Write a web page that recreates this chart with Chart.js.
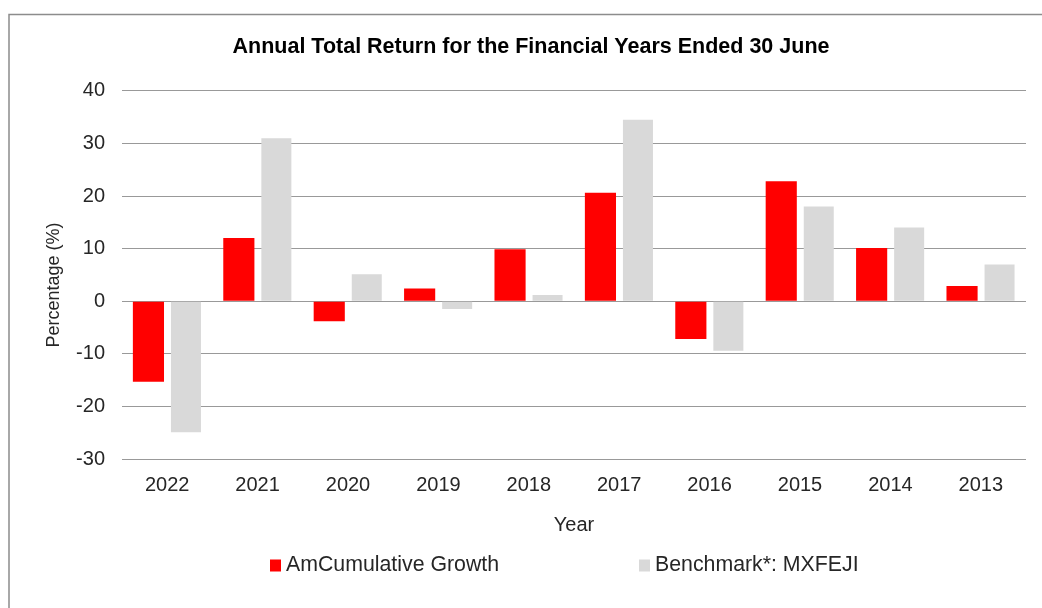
<!DOCTYPE html>
<html>
<head>
<meta charset="utf-8">
<script src="https://cdn.jsdelivr.net/npm/chart.js@4"></script>
<style>
  html, body { margin: 0; padding: 0; background: #fff; }
  #wrap { position: relative; width: 1042px; height: 608px; }
</style>
</head>
<body>
<div id="wrap"><canvas id="c" width="1042" height="608"></canvas></div>
<script>
const categories = ['2022', '2021', '2020', '2019', '2018', '2017', '2016', '2015', '2014', '2013'];
const fundLabel = 'AmCumulative Growth';
const benchLabel = 'Benchmark*: MXFEJI';
const fundValues = [-15.3, 12.0, -3.8, 2.4, 9.9, 20.6, -7.2, 22.8, 10.1, 2.9];
const benchValues = [-24.9, 31.0, 5.1, -1.5, 1.2, 34.5, -9.4, 18.0, 14.0, 7.0];
const yMin = -30, yMax = 40, yStep = 10;
const titleText = 'Annual Total Return for the Financial Years Ended 30 June';
const xTitle = 'Year';
const yTitle = 'Percentage (%)';

const FONT = "'Liberation Sans', Arial, sans-serif";
const TEXT = '#262626';

const frame = {
  id: 'frame',
  beforeDraw(chart) {
    const ctx = chart.ctx;
    ctx.save();
    ctx.fillStyle = '#fff';
    ctx.fillRect(0, 0, chart.width, chart.height);
    ctx.strokeStyle = '#8c8c8c';
    ctx.lineWidth = 1.5;
    ctx.beginPath();
    ctx.moveTo(9, chart.height);
    ctx.lineTo(9, 14.5);
    ctx.lineTo(chart.width, 14.5);
    ctx.stroke();
    ctx.restore();
  }
};

const yAxisTitle = {
  id: 'yAxisTitle',
  afterDraw(chart, args, opts) {
    const ctx = chart.ctx;
    ctx.save();
    ctx.font = opts.fontSize + 'px ' + FONT;
    ctx.fillStyle = TEXT;
    ctx.textAlign = 'center';
    ctx.textBaseline = 'middle';
    ctx.translate(opts.x, opts.y);
    ctx.rotate(-Math.PI / 2);
    ctx.fillText(opts.text, 0, 0);
    ctx.restore();
  }
};

const customLegend = {
  id: 'customLegend',
  afterDraw(chart, args, opts) {
    const ctx = chart.ctx;
    ctx.save();
    ctx.font = opts.fontSize + 'px ' + FONT;
    ctx.textBaseline = 'middle';
    ctx.textAlign = 'left';
    chart.data.datasets.forEach((ds, i) => {
      const x = opts.xs[i];
      const y = opts.y;
      ctx.fillStyle = ds.backgroundColor;
      ctx.fillRect(x, y - opts.box / 2, opts.box, opts.box + 1);
      ctx.fillStyle = TEXT;
      ctx.fillText(ds.label, x + opts.box + opts.gap, y);
    });
    ctx.restore();
  }
};

new Chart(document.getElementById('c'), {
  type: 'bar',
  data: {
    labels: categories,
    datasets: [
      { label: fundLabel, data: fundValues, backgroundColor: '#ff0000',
        categoryPercentage: 0.83, barPercentage: 0.83 },
      { label: benchLabel, data: benchValues, backgroundColor: '#d9d9d9',
        categoryPercentage: 0.83, barPercentage: 0.80 }
    ]
  },
  options: {
    responsive: false,
    animation: false,
    devicePixelRatio: 1,
    layout: { padding: { left: 36, right: 16, top: 0, bottom: 59 } },
    plugins: {
      legend: { display: false },
      tooltip: { enabled: false },
      title: {
        display: true,
        text: titleText,
        color: '#000',
        font: { family: FONT, size: 21.5, weight: 'bold', lineHeight: 1.2 },
        padding: { top: 33.8, bottom: 31.2 }
      },
      yAxisTitle: { text: yTitle, x: 54, y: 285, fontSize: 18 },
      customLegend: { xs: [270, 639], y: 565, box: 11, gap: 5, fontSize: 21.3 }
    },
    scales: {
      x: {
        grid: { display: false, drawTicks: false },
        border: { display: false },
        ticks: { color: TEXT, padding: 14, font: { family: FONT, size: 20, lineHeight: 1.2 } },
        title: { display: true, text: xTitle, color: TEXT,
                 font: { family: FONT, size: 20, lineHeight: 1.2 }, padding: { top: 0, bottom: 12 } },
        afterFit(s) { s.height = 90; }
      },
      y: {
        min: yMin, max: yMax,
        grid: { color: '#999999', lineWidth: 1, drawTicks: false },
        border: { display: false },
        ticks: { stepSize: yStep, color: TEXT, padding: 17, font: { family: FONT, size: 20, lineHeight: 1.2 } },
        title: { display: false },
        afterFit(s) { s.width = 86; }
      }
    }
  },
  plugins: [frame, yAxisTitle, customLegend]
});
</script>
</body>
</html>
